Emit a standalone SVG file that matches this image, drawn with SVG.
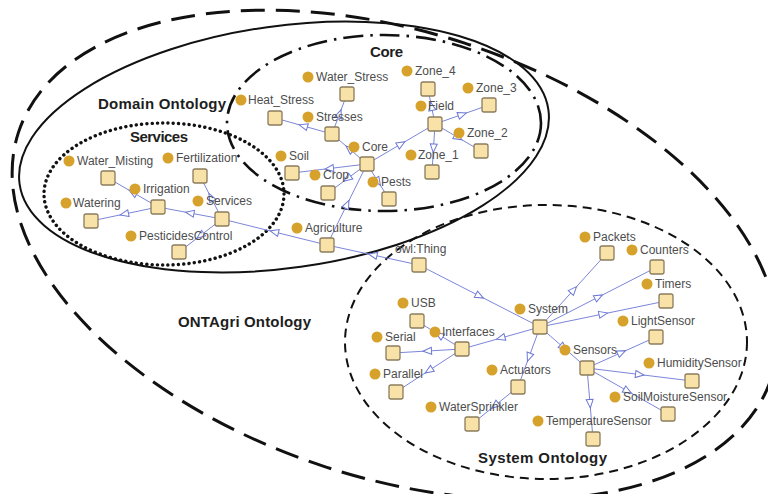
<svg xmlns="http://www.w3.org/2000/svg" width="768" height="494" viewBox="0 0 768 494">
  <style>
    .bg { fill: #ffffff; }
    .region { fill: none; stroke: #111111; }
    .outer { stroke-width: 3; stroke-dasharray: 24 11; }
    .domain { stroke-width: 2; }
    .core { stroke-width: 2.6; stroke-dasharray: 20 7 2.5 7; }
    .services { stroke-width: 3.4; stroke-dasharray: 0.1 5.2; stroke-linecap: round; }
    .system { stroke-width: 2; stroke-dasharray: 9 6; }
    .title { font-family: "Liberation Sans", Arial, sans-serif; font-weight: bold; font-size: 15px; fill: #1e1e1e; }
    .edge { fill: none; stroke: #7c86d8; stroke-width: 1; marker-mid: url(#sub); }
    .dot { fill: #d6a22b; }
    .box { fill: #f8e2a8; stroke: #8a7c5c; stroke-width: 1.3; }
    .lbl { font-family: "Liberation Sans", Arial, sans-serif; font-size: 12px; fill: #4d4d4d; }
  </style>
  <defs>
    <!-- hollow subclass triangle placed at the middle of each link -->
    <marker id="sub" markerUnits="userSpaceOnUse" markerWidth="12" markerHeight="12" refX="4" refY="4" orient="auto" viewBox="-1 0 12 8">
      <path d="M0,0.5 L8.5,4 L0,7.5 Z" fill="#ffffff" stroke="#6d78d4" stroke-width="1"/>
    </marker>
  </defs>

  <rect class="bg" x="0" y="0" width="768" height="494"/>

  <!-- ontology regions -->
  <g id="regions">
    <ellipse class="region outer" cx="395" cy="255" rx="396" ry="223" transform="rotate(18 395 255)"/>
    <ellipse class="region domain" cx="284" cy="147" rx="267" ry="121" transform="rotate(-8 284 147)"/>
    <ellipse class="region core" cx="384" cy="123" rx="157" ry="88"/>
    <ellipse class="region services" cx="164" cy="194" rx="120" ry="71"/>
    <ellipse class="region system" cx="546" cy="342" rx="201" ry="137"/>
  </g>

  <g id="titles">
    <text class="title" x="370" y="57" textLength="33">Core</text>
    <text class="title" x="98" y="109" textLength="128">Domain Ontology</text>
    <text class="title" x="130" y="142" textLength="58">Services</text>
    <text class="title" x="178" y="327" textLength="133">ONTAgri Ontology</text>
    <text class="title" x="478" y="463" textLength="129">System Ontology</text>
  </g>

  <!-- subclass links: parent box to child box -->
  <g id="connectors">
    <path class="edge" d="M419,265 L373,255 L327,245"/>
    <path class="edge" d="M419,265 L479.5,296 L540,327"/>
    <path class="edge" d="M327,245 L347,204.5 L367,164"/>
    <path class="edge" d="M327,245 L274.5,232 L222,219"/>
    <path class="edge" d="M222,219 L190,213 L158,207"/>
    <path class="edge" d="M222,219 L211,197.5 L200,176"/>
    <path class="edge" d="M222,219 L200.5,235.5 L179,252"/>
    <path class="edge" d="M158,207 L124.5,214 L91,221"/>
    <path class="edge" d="M158,207 L133,192.5 L108,178"/>
    <path class="edge" d="M367,164 L401,144 L435,124"/>
    <path class="edge" d="M367,164 L329.5,168.5 L292,173"/>
    <path class="edge" d="M367,164 L347.5,178.5 L328,193"/>
    <path class="edge" d="M367,164 L349.5,149 L332,134"/>
    <path class="edge" d="M367,164 L378,181.5 L389,199"/>
    <path class="edge" d="M332,134 L303.5,126 L275,118"/>
    <path class="edge" d="M332,134 L339.5,114 L347,94"/>
    <path class="edge" d="M435,124 L431.5,106.5 L428,89"/>
    <path class="edge" d="M435,124 L462,114.5 L489,105"/>
    <path class="edge" d="M435,124 L458,137.5 L481,151"/>
    <path class="edge" d="M435,124 L433.5,148 L432,172"/>
    <path class="edge" d="M540,327 L573.5,290 L607,253"/>
    <path class="edge" d="M540,327 L598.5,297 L657,267"/>
    <path class="edge" d="M540,327 L603,314 L666,301"/>
    <path class="edge" d="M540,327 L563.5,347.5 L587,368"/>
    <path class="edge" d="M540,327 L529,357 L518,387"/>
    <path class="edge" d="M540,327 L501,338 L462,349"/>
    <path class="edge" d="M462,349 L439.5,335 L417,321"/>
    <path class="edge" d="M462,349 L427.5,351 L393,353"/>
    <path class="edge" d="M462,349 L429,370.5 L396,392"/>
    <path class="edge" d="M518,387 L495,405.5 L472,424"/>
    <path class="edge" d="M587,368 L621.5,352.5 L656,337"/>
    <path class="edge" d="M587,368 L639.5,374.5 L692,381"/>
    <path class="edge" d="M587,368 L627.5,391 L668,414"/>
    <path class="edge" d="M587,368 L590,403.5 L593,439"/>
  </g>

  <!-- classes -->
  <g id="n-thing"><text class="lbl" x="395" y="253">owl:Thing</text><rect class="box" x="412" y="258" width="14" height="14" rx="2"/></g>
  <g id="n-agriculture"><circle class="dot" cx="297" cy="228" r="5.5"/><text class="lbl" x="305" y="232">Agriculture</text><rect class="box" x="320" y="238" width="14" height="14" rx="2"/></g>

  <g id="n-services"><circle class="dot" cx="198" cy="201" r="5.5"/><text class="lbl" x="206" y="205">Services</text><rect class="box" x="215" y="212" width="14" height="14" rx="2"/></g>
  <g id="n-irrigation"><circle class="dot" cx="135" cy="189" r="5.5"/><text class="lbl" x="143" y="193">Irrigation</text><rect class="box" x="151" y="200" width="14" height="14" rx="2"/></g>
  <g id="n-fertilization"><circle class="dot" cx="168" cy="158" r="5.5"/><text class="lbl" x="176" y="162">Fertilization</text><rect class="box" x="193" y="169" width="14" height="14" rx="2"/></g>
  <g id="n-pesticides"><circle class="dot" cx="131" cy="236" r="5.5"/><text class="lbl" x="139" y="240">PesticidesControl</text><rect class="box" x="172" y="245" width="14" height="14" rx="2"/></g>
  <g id="n-watering"><circle class="dot" cx="66" cy="203" r="5.5"/><text class="lbl" x="73" y="207">Watering</text><rect class="box" x="84" y="214" width="14" height="14" rx="2"/></g>
  <g id="n-water-misting"><circle class="dot" cx="69" cy="161" r="5.5"/><text class="lbl" x="77" y="165">Water_Misting</text><rect class="box" x="101" y="171" width="14" height="14" rx="2"/></g>

  <g id="n-core"><circle class="dot" cx="354" cy="147" r="5.5"/><text class="lbl" x="362" y="151">Core</text><rect class="box" x="360" y="157" width="14" height="14" rx="2"/></g>
  <g id="n-soil"><circle class="dot" cx="281" cy="156" r="5.5"/><text class="lbl" x="289" y="160">Soil</text><rect class="box" x="285" y="166" width="14" height="14" rx="2"/></g>
  <g id="n-crop"><circle class="dot" cx="315" cy="175" r="5.5"/><text class="lbl" x="323" y="179">Crop</text><rect class="box" x="321" y="186" width="14" height="14" rx="2"/></g>
  <g id="n-pests"><circle class="dot" cx="373" cy="182" r="5.5"/><text class="lbl" x="381" y="186">Pests</text><rect class="box" x="382" y="192" width="14" height="14" rx="2"/></g>
  <g id="n-stresses"><circle class="dot" cx="308" cy="117" r="5.5"/><text class="lbl" x="316" y="121">Stresses</text><rect class="box" x="325" y="127" width="14" height="14" rx="2"/></g>
  <g id="n-heat-stress"><circle class="dot" cx="241" cy="100" r="5.5"/><text class="lbl" x="248" y="104">Heat_Stress</text><rect class="box" x="268" y="111" width="14" height="14" rx="2"/></g>
  <g id="n-water-stress"><circle class="dot" cx="308" cy="77" r="5.5"/><text class="lbl" x="316" y="81">Water_Stress</text><rect class="box" x="340" y="87" width="14" height="14" rx="2"/></g>
  <g id="n-field"><circle class="dot" cx="421" cy="106" r="5.5"/><text class="lbl" x="428" y="110">Field</text><rect class="box" x="428" y="117" width="14" height="14" rx="2"/></g>
  <g id="n-zone4"><circle class="dot" cx="407" cy="71" r="5.5"/><text class="lbl" x="415" y="75">Zone_4</text><rect class="box" x="421" y="82" width="14" height="14" rx="2"/></g>
  <g id="n-zone3"><circle class="dot" cx="468" cy="88" r="5.5"/><text class="lbl" x="476" y="92">Zone_3</text><rect class="box" x="482" y="98" width="14" height="14" rx="2"/></g>
  <g id="n-zone2"><circle class="dot" cx="459" cy="133" r="5.5"/><text class="lbl" x="467" y="137">Zone_2</text><rect class="box" x="474" y="144" width="14" height="14" rx="2"/></g>
  <g id="n-zone1"><circle class="dot" cx="411" cy="155" r="5.5"/><text class="lbl" x="418" y="159">Zone_1</text><rect class="box" x="425" y="165" width="14" height="14" rx="2"/></g>

  <g id="n-system"><circle class="dot" cx="520" cy="309" r="5.5"/><text class="lbl" x="528" y="313">System</text><rect class="box" x="533" y="320" width="14" height="14" rx="2"/></g>
  <g id="n-packets"><circle class="dot" cx="585" cy="237" r="5.5"/><text class="lbl" x="593" y="241">Packets</text><rect class="box" x="600" y="246" width="14" height="14" rx="2"/></g>
  <g id="n-counters"><circle class="dot" cx="632" cy="250" r="5.5"/><text class="lbl" x="640" y="254">Counters</text><rect class="box" x="650" y="260" width="14" height="14" rx="2"/></g>
  <g id="n-timers"><circle class="dot" cx="647" cy="284" r="5.5"/><text class="lbl" x="655" y="288">Timers</text><rect class="box" x="659" y="294" width="14" height="14" rx="2"/></g>
  <g id="n-interfaces"><circle class="dot" cx="435" cy="332" r="5.5"/><text class="lbl" x="442" y="336">Interfaces</text><rect class="box" x="455" y="342" width="14" height="14" rx="2"/></g>
  <g id="n-usb"><circle class="dot" cx="403" cy="303" r="5.5"/><text class="lbl" x="411" y="307">USB</text><rect class="box" x="410" y="314" width="14" height="14" rx="2"/></g>
  <g id="n-serial"><circle class="dot" cx="377" cy="337" r="5.5"/><text class="lbl" x="385" y="341">Serial</text><rect class="box" x="386" y="346" width="14" height="14" rx="2"/></g>
  <g id="n-parallel"><circle class="dot" cx="375" cy="374" r="5.5"/><text class="lbl" x="383" y="378">Parallel</text><rect class="box" x="389" y="385" width="14" height="14" rx="2"/></g>
  <g id="n-actuators"><circle class="dot" cx="492" cy="370" r="5.5"/><text class="lbl" x="500" y="374">Actuators</text><rect class="box" x="511" y="380" width="14" height="14" rx="2"/></g>
  <g id="n-watersprinkler"><circle class="dot" cx="431" cy="407" r="5.5"/><text class="lbl" x="439" y="411">WaterSprinkler</text><rect class="box" x="465" y="417" width="14" height="14" rx="2"/></g>
  <g id="n-sensors"><circle class="dot" cx="565" cy="350" r="5.5"/><text class="lbl" x="573" y="354">Sensors</text><rect class="box" x="580" y="361" width="14" height="14" rx="2"/></g>
  <g id="n-lightsensor"><circle class="dot" cx="623" cy="321" r="5.5"/><text class="lbl" x="631" y="325">LightSensor</text><rect class="box" x="649" y="330" width="14" height="14" rx="2"/></g>
  <g id="n-humiditysensor"><circle class="dot" cx="649" cy="363" r="5.5"/><text class="lbl" x="657" y="367">HumiditySensor</text><rect class="box" x="685" y="374" width="14" height="14" rx="2"/></g>
  <g id="n-soilmoisturesensor"><circle class="dot" cx="615" cy="397" r="5.5"/><text class="lbl" x="623" y="401">SoilMoistureSensor</text><rect class="box" x="661" y="407" width="14" height="14" rx="2"/></g>
  <g id="n-temperaturesensor"><circle class="dot" cx="538" cy="421" r="5.5"/><text class="lbl" x="546" y="425">TemperatureSensor</text><rect class="box" x="586" y="432" width="14" height="14" rx="2"/></g>
</svg>
